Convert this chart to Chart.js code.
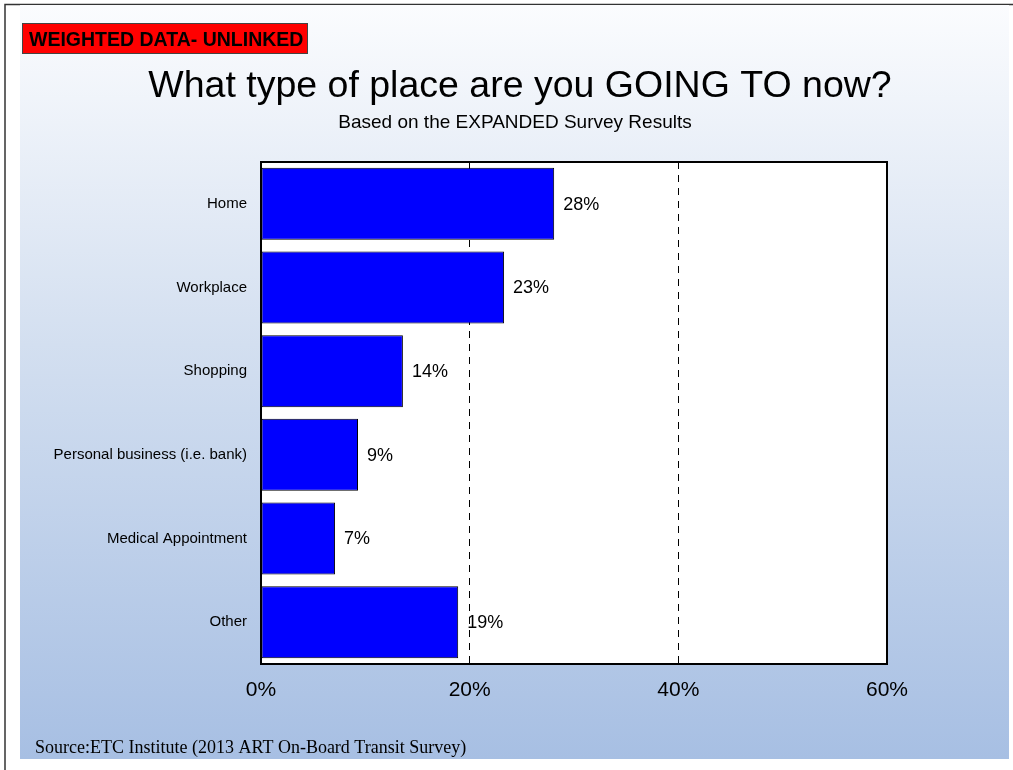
<!DOCTYPE html>
<html>
<head>
<meta charset="utf-8">
<title>What type of place are you GOING TO now?</title>
<script src="https://cdn.jsdelivr.net/npm/chart.js@4.4.1/dist/chart.umd.min.js"></script>
<style>
    html, body { margin: 0; padding: 0; background: #ffffff; }
    canvas { display: block; }
</style>
</head>
<body>
<canvas id="destChart" width="1013" height="770"></canvas>
<script>
// Survey answers (percent of weighted unlinked trips)
const places = ['Home', 'Workplace', 'Shopping', 'Personal business (i.e. bank)', 'Medical Appointment', 'Other'];
const shares = [28.1, 23.3, 13.6, 9.3, 7.1, 18.9];
const xTicks = [0, 20, 40, 60];

const titleText = 'What type of place are you GOING TO now?';
const subtitleText = 'Based on the EXPANDED Survey Results';
const tagText = 'WEIGHTED DATA- UNLINKED';
const sourceText = 'Source:ETC Institute (2013 ART On-Board Transit Survey)';

const sans = '"Liberation Sans", Arial, sans-serif';
const serif = '"Liberation Serif", "Times New Roman", serif';

// Slide background, header texts and plot frame
const slidePlugin = {
    id: 'slide',
    beforeDraw(chart) {
        const ctx = chart.ctx;
        const area = chart.chartArea;
        ctx.save();

        // outer frame lines
        ctx.fillStyle = '#ffffff';
        ctx.fillRect(0, 0, chart.width, chart.height);
        ctx.strokeStyle = '#333333';
        ctx.lineWidth = 1.5;
        ctx.beginPath();
        ctx.moveTo(5, chart.height);
        ctx.lineTo(5, 4.5);
        ctx.lineTo(chart.width, 4.5);
        ctx.stroke();

        // blue gradient panel
        const grad = ctx.createLinearGradient(0, 5, 0, 759);
        grad.addColorStop(0, '#fbfcfe');
        grad.addColorStop(0.45, '#d3dff0');
        grad.addColorStop(1, '#a7bfe3');
        ctx.fillStyle = grad;
        ctx.fillRect(20, 5, 989, 754);

        // red tag
        ctx.fillStyle = '#ff0000';
        ctx.fillRect(22, 23, 286, 31);
        ctx.strokeStyle = '#444444';
        ctx.lineWidth = 1;
        ctx.strokeRect(22.5, 23.5, 285, 30);
        ctx.fillStyle = '#000000';
        ctx.font = 'bold 19.5px ' + sans;
        ctx.textBaseline = 'alphabetic';
        ctx.textAlign = 'left';
        ctx.fillText(tagText, 29, 46);

        // title and subtitle
        ctx.textAlign = 'center';
        ctx.font = '37.5px ' + sans;
        ctx.fillText(titleText, 520, 97);
        ctx.font = '19px ' + sans;
        ctx.fillText(subtitleText, 515, 128);

        // source line
        ctx.textAlign = 'left';
        ctx.font = '18px ' + serif;
        ctx.fillText(sourceText, 35, 753);

        // white plot area
        ctx.fillStyle = '#ffffff';
        ctx.fillRect(area.left, area.top, area.right - area.left, area.bottom - area.top);
        ctx.restore();
    },
    afterDraw(chart) {
        const ctx = chart.ctx;
        const area = chart.chartArea;
        ctx.save();
        ctx.strokeStyle = '#000000';
        ctx.lineWidth = 2;
        ctx.strokeRect(area.left, area.top, area.right - area.left, area.bottom - area.top);
        ctx.restore();
    }
};

// Percent labels at the end of each bar
const valueLabels = {
    id: 'valueLabels',
    afterDatasetsDraw(chart) {
        const ctx = chart.ctx;
        const meta = chart.getDatasetMeta(0);
        ctx.save();
        ctx.fillStyle = '#000000';
        ctx.font = '18px ' + sans;
        ctx.textAlign = 'left';
        ctx.textBaseline = 'middle';
        meta.data.forEach((bar, i) => {
            ctx.fillText(Math.round(shares[i]) + '%', bar.x + 9, bar.y + 1);
        });
        ctx.restore();
    }
};

const ctx = document.getElementById('destChart').getContext('2d');
const destChart = new Chart(ctx, {
    type: 'bar',
    data: {
        labels: places,
        datasets: [{
            data: shares,
            backgroundColor: '#0000ff',
            borderColor: '#000000',
            borderWidth: 1,
            borderSkipped: false,
            categoryPercentage: 1,
            barPercentage: 0.86
        }]
    },
    options: {
        indexAxis: 'y',
        responsive: false,
        animation: false,
        layout: {
            padding: { left: 0, top: 162, right: 126, bottom: 56 }
        },
        plugins: {
            legend: { display: false },
            tooltip: { enabled: false }
        },
        scales: {
            x: {
                min: xTicks[0],
                max: xTicks[xTicks.length - 1],
                afterFit(scale) { scale.height = 50; },
                afterBuildTicks(scale) {
                    scale.ticks = xTicks.map(v => ({ value: v }));
                },
                ticks: {
                    padding: 14,
                    color: '#000000',
                    font: { family: sans, size: 21 },
                    callback: v => v + '%'
                },
                grid: {
                    drawTicks: false,
                    lineWidth: 1,
                    color: c => (c.tick && (c.tick.value === 20 || c.tick.value === 40)) ? '#000000' : 'rgba(0,0,0,0)'
                },
                border: { display: false, dash: [7, 6] }
            },
            y: {
                afterFit(scale) { scale.width = 261; },
                ticks: {
                    padding: 14,
                    color: '#000000',
                    font: { family: sans, size: 15 }
                },
                grid: { display: false, drawTicks: false },
                border: { display: false }
            }
        }
    },
    plugins: [slidePlugin, valueLabels]
});
</script>
</body>
</html>
